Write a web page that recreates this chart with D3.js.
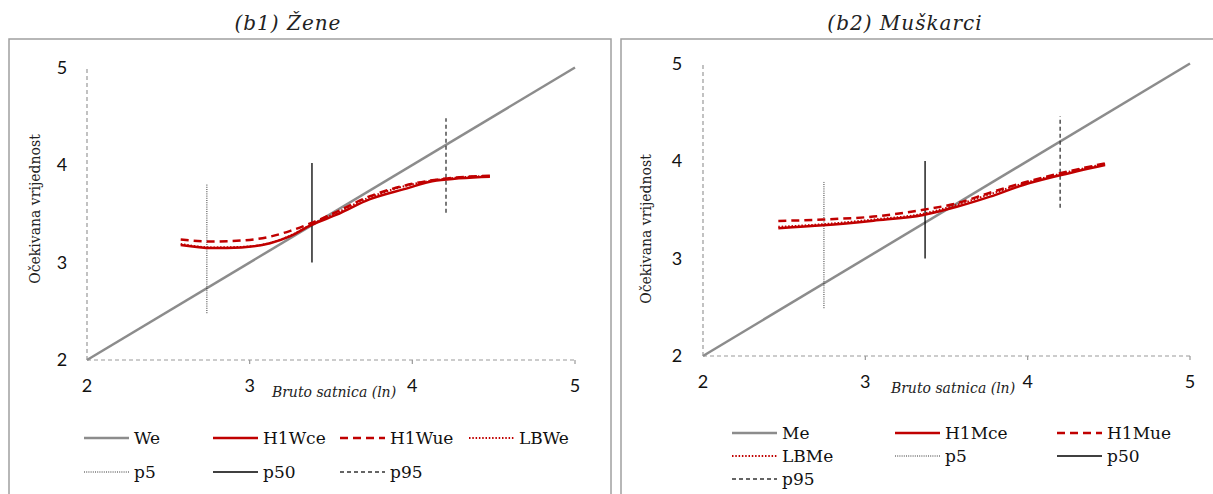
<!DOCTYPE html>
<html><head><meta charset="utf-8">
<script src="https://cdn.jsdelivr.net/npm/d3@7"></script>
<style>body{margin:0;background:#fff}svg{display:block}</style>
</head><body>
<svg id="c" width="1213" height="494"></svg>
<script>
// ---- data ----
const xTicks = [2, 3, 4, 5];
const yTicks = [2, 3, 4, 5];
const identityLine = [2, 5];

// Panel b1 (Žene)
const wX      = [2.576, 2.77, 2.95, 3.125, 3.25, 3.38, 3.535, 3.74, 3.944, 4.149, 4.477];
const H1Wce   = [3.18, 3.148, 3.155, 3.197, 3.27, 3.385, 3.49, 3.65, 3.75, 3.84, 3.88];
const H1Wue   = [3.235, 3.215, 3.225, 3.265, 3.325, 3.405, 3.52, 3.68, 3.785, 3.85, 3.89];
const LBWe    = [3.19, 3.155, 3.16, 3.2, 3.275, 3.39, 3.51, 3.67, 3.78, 3.848, 3.888];
const wPct    = [2.737, 3.383, 4.207];
const wPctLo  = [2.48, 3.0, 3.51];
const wPctHi  = [3.8, 4.02, 4.48];

// Panel b2 (Muškarci)
const mX      = [2.464, 2.741, 3.05, 3.357, 3.563, 3.768, 3.973, 4.18, 4.477];
const H1Mce   = [3.31, 3.34, 3.388, 3.446, 3.53, 3.634, 3.754, 3.846, 3.96];
const H1Mue   = [3.385, 3.40, 3.43, 3.50, 3.566, 3.675, 3.777, 3.866, 3.976];
const LBMe    = [3.325, 3.352, 3.40, 3.46, 3.55, 3.66, 3.77, 3.86, 3.972];
const mPct    = [2.745, 3.368, 4.2];
const mPctLo  = [2.49, 3.0, 3.52];
const mPctHi  = [3.785, 4.0, 4.46];

const pctNames = ["p5", "p50", "p95"];

// ---- styles ----
const GRAY = "#8c8c8c", RED = "#c00000";
const styles = {
  ident: {stroke: GRAY, width: 2.5, dash: null},
  ce:    {stroke: RED, width: 2.5, dash: null},
  ue:    {stroke: RED, width: 2.5, dash: "8,5"},
  lb:    {stroke: RED, width: 2, dash: "1.5,1.8"},
  p5:    {stroke: "#333", width: 1, dash: "1,1.2"},
  p50:   {stroke: "#000", width: 1.3, dash: null},
  p95:   {stroke: "#333", width: 1.3, dash: "4,3"}
};
const SERIF = "'DejaVu Serif', serif";
const SANS = "Lato, 'Open Sans', sans-serif";

const svg = d3.select("#c");

function applyStyle(sel, s) {
  sel.attr("fill", "none").attr("stroke", s.stroke).attr("stroke-width", s.width);
  if (s.dash) sel.attr("stroke-dasharray", s.dash);
  return sel;
}

function drawPanel(cfg) {
  const g = svg.append("g");
  // frame
  g.append("rect").attr("x", cfg.frame[0]).attr("y", cfg.frame[1])
    .attr("width", cfg.frame[2]).attr("height", cfg.frame[3])
    .attr("fill", "none").attr("stroke", "#a0a0a0").attr("stroke-width", 1.5);
  // title
  g.append("text").attr("x", cfg.titleX).attr("y", 30).attr("text-anchor", "middle")
    .attr("font-family", SERIF).attr("font-style", "italic").attr("font-size", 20)
    .attr("letter-spacing", 1).attr("fill", "#222").text(cfg.title);

  const x = d3.scaleLinear().domain([2, 5]).range([cfg.x0, cfg.x1]);
  const y = d3.scaleLinear().domain([2, 5]).range([cfg.y0, cfg.y1]);

  // axes (dashed gray)
  g.append("line").attr("x1", x(2)).attr("x2", x(5)).attr("y1", y(2)).attr("y2", y(2))
    .attr("stroke", "#999").attr("stroke-width", 1.2).attr("stroke-dasharray", "4,3");
  g.append("line").attr("x1", x(2)).attr("x2", x(2)).attr("y1", y(2)).attr("y2", y(5))
    .attr("stroke", "#999").attr("stroke-width", 1.2).attr("stroke-dasharray", "4,3");
  g.selectAll(".xt").data(xTicks.slice(1)).join("line")
    .attr("x1", d => x(d)).attr("x2", d => x(d)).attr("y1", y(2)).attr("y2", y(2) + 4)
    .attr("stroke", "#999").attr("stroke-width", 1.2);

  g.selectAll(".xl").data(xTicks).join("text")
    .attr("x", d => x(d)).attr("y", y(2) + 32).attr("text-anchor", "middle")
    .attr("font-family", SANS).attr("font-size", 18).attr("fill", "#111").text(d => d);
  g.selectAll(".yl").data(yTicks).join("text")
    .attr("x", cfg.yLabelX).attr("y", d => y(d) + 6).attr("text-anchor", "middle")
    .attr("font-family", SANS).attr("font-size", 18).attr("fill", "#111").text(d => d);

  // axis titles
  g.append("text").attr("x", cfg.xTitleX).attr("y", y(2) + 37).attr("text-anchor", "middle")
    .attr("font-family", SERIF).attr("font-style", "italic").attr("font-size", 14)
    .attr("fill", "#222").text("Bruto satnica (ln)");
  g.append("text").attr("transform", `translate(${cfg.yTitleX},${cfg.yTitleY}) rotate(-90)`)
    .attr("text-anchor", "middle").attr("font-family", SERIF).attr("font-size", 14)
    .attr("fill", "#222").text("Očekivana vrijednost");

  // identity line
  applyStyle(g.append("path").attr("d", d3.line()(identityLine.map(v => [x(v), y(v)]))), styles.ident);

  // percentile lines
  cfg.pct.forEach((p, i) => {
    applyStyle(g.append("line").attr("x1", x(p)).attr("x2", x(p))
      .attr("y1", y(cfg.pctLo[i])).attr("y2", y(cfg.pctHi[i])), styles[pctNames[i]]);
  });

  // curves
  const line = d3.line().x(d => x(d[0])).y(d => y(d[1])).curve(d3.curveMonotoneX);
  const mk = arr => cfg.xs.map((v, i) => [v, arr[i]]);
  applyStyle(g.append("path").attr("d", line(mk(cfg.lb))), styles.lb);
  applyStyle(g.append("path").attr("d", line(mk(cfg.ce))), styles.ce);
  applyStyle(g.append("path").attr("d", line(mk(cfg.ue))), styles.ue);

  // legend
  cfg.legend.forEach(it => {
    applyStyle(g.append("line").attr("x1", it.x).attr("x2", it.x + it.w)
      .attr("y1", it.y).attr("y2", it.y), styles[it.s]);
    g.append("text").attr("x", it.x + it.w + 5).attr("y", it.y + 6)
      .attr("font-family", SERIF).attr("font-size", 17).attr("fill", "#111").text(it.label);
  });
}

drawPanel({
  frame: [9, 39, 602, 470], title: "(b1) Žene", titleX: 288,
  x0: 87, x1: 575, y0: 360, y1: 67.5, yLabelX: 62,
  xTitleX: 334, yTitleX: 40, yTitleY: 209,
  xs: wX, ce: H1Wce, ue: H1Wue, lb: LBWe,
  pct: wPct, pctLo: wPctLo, pctHi: wPctHi,
  legend: [
    {x: 84, y: 438, w: 45, s: "ident", label: "We"},
    {x: 213, y: 438, w: 45, s: "ce", label: "H1Wce"},
    {x: 340, y: 438, w: 45, s: "ue", label: "H1Wue"},
    {x: 469, y: 438, w: 45, s: "lb", label: "LBWe"},
    {x: 84, y: 472, w: 45, s: "p5", label: "p5"},
    {x: 213, y: 472, w: 45, s: "p50", label: "p50"},
    {x: 340, y: 472, w: 45, s: "p95", label: "p95"}
  ]
});

drawPanel({
  frame: [621, 39, 600, 470], title: "(b2) Muškarci", titleX: 905,
  x0: 703, x1: 1190, y0: 356, y1: 63.5, yLabelX: 677,
  xTitleX: 953, yTitleX: 651, yTitleY: 229,
  xs: mX, ce: H1Mce, ue: H1Mue, lb: LBMe,
  pct: mPct, pctLo: mPctLo, pctHi: mPctHi,
  legend: [
    {x: 732, y: 433, w: 45, s: "ident", label: "Me"},
    {x: 895, y: 433, w: 45, s: "ce", label: "H1Mce"},
    {x: 1057, y: 433, w: 45, s: "ue", label: "H1Mue"},
    {x: 732, y: 456, w: 45, s: "lb", label: "LBMe"},
    {x: 895, y: 456, w: 45, s: "p5", label: "p5"},
    {x: 1057, y: 456, w: 45, s: "p50", label: "p50"},
    {x: 732, y: 479, w: 45, s: "p95", label: "p95"}
  ]
});
</script>
</body></html>
